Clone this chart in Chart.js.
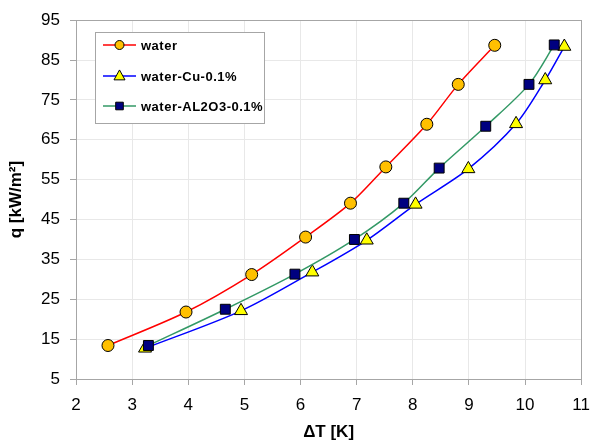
<!DOCTYPE html>
<html>
<head>
<meta charset="utf-8">
<script src="https://cdn.jsdelivr.net/npm/chart.js@4/dist/chart.umd.min.js"></script>
<style>
    html, body { margin: 0; padding: 0; background: #fff; }
    #wrap { width: 600px; height: 446px; }
</style>
</head>
<body>
<div id="wrap"><canvas id="boilingChart" width="600" height="446"></canvas></div>
<script>
// Series data
const waterDT = [2.57, 3.96, 5.13, 6.09, 6.89, 7.52, 8.25, 8.81, 9.46];
const waterQ = [13.4, 21.8, 31.2, 40.6, 49.1, 58.2, 68.9, 78.9, 88.7];

const cuDT = [3.23, 4.94, 6.21, 7.18, 8.05, 8.99, 9.84, 10.36, 10.70];
const cuQ = [12.7, 22.1, 31.8, 39.8, 48.8, 57.7, 69.0, 80.0, 88.4];

const aluDT = [3.29, 4.66, 5.90, 6.96, 7.84, 8.47, 9.30, 10.07, 10.52];
const aluQ = [13.4, 22.5, 31.3, 40.0, 49.1, 57.9, 68.4, 78.9, 88.8];

const seriesNames = ['water', 'water-Cu-0.1%', 'water-AL2O3-0.1%'];

// Axis ticks
const xTicks = [2, 3, 4, 5, 6, 7, 8, 9, 10, 11];
const yTicks = [5, 15, 25, 35, 45, 55, 65, 75, 85, 95];

const FONT = 'Arial, "Liberation Sans", sans-serif';

function toPoints(xs, ys) {
    return xs.map((x, i) => ({ x: x, y: ys[i] }));
}

// Gray frame round the plot area
const framePlugin = {
    id: 'frame',
    afterDraw(chart) {
        const { ctx, chartArea: a } = chart;
        ctx.save();
        ctx.strokeStyle = '#a6a6a6';
        ctx.lineWidth = 1;
        ctx.strokeRect(Math.round(a.left) + 0.5, Math.round(a.top) + 0.5,
            Math.round(a.right - a.left), Math.round(a.bottom - a.top));
        ctx.restore();
    }
};

// Legend box inside the plot, Excel style
function drawMarker(ctx, style, x, y, r) {
    ctx.beginPath();
    if (style === 'circle') {
        ctx.arc(x, y, r, 0, Math.PI * 2);
    } else if (style === 'rect') {
        ctx.rect(x - r, y - r, r * 2, r * 2);
    } else if (style === 'triangle') {
        ctx.moveTo(x, y - r * 1.1);
        ctx.lineTo(x + r, y + r * 0.7);
        ctx.lineTo(x - r, y + r * 0.7);
        ctx.closePath();
    }
    ctx.fill();
    ctx.stroke();
}

const legendPlugin = {
    id: 'boxLegend',
    afterDraw(chart) {
        const ctx = chart.ctx;
        const box = { x: 95.5, y: 32.5, w: 169, h: 91 };
        const rows = [45, 76, 106];
        const sizes = [4.5, 5.5, 3.8];
        ctx.save();
        ctx.fillStyle = '#fff';
        ctx.strokeStyle = '#a6a6a6';
        ctx.lineWidth = 1;
        ctx.fillRect(box.x, box.y, box.w, box.h);
        ctx.strokeRect(box.x, box.y, box.w, box.h);

        seriesNames.forEach((name, i) => {
            const ds = chart.data.datasets.find(d => d.label === name);
            const y = rows[i];
            ctx.strokeStyle = ds.borderColor;
            ctx.lineWidth = 1.5;
            ctx.beginPath();
            ctx.moveTo(103, y);
            ctx.lineTo(136, y);
            ctx.stroke();

            ctx.fillStyle = ds.pointBackgroundColor;
            ctx.strokeStyle = '#000';
            ctx.lineWidth = 1;
            drawMarker(ctx, ds.pointStyle, 119.5, y, sizes[i]);

            ctx.fillStyle = '#000';
            ctx.font = 'bold 13px ' + FONT;
            ctx.textBaseline = 'middle';
            ctx.textAlign = 'left';
            if ('letterSpacing' in ctx) ctx.letterSpacing = '0.5px';
            ctx.fillText(ds.label, 141, y + 1);
        });
        ctx.restore();
    }
};

const ctx1 = document.getElementById('boilingChart');

new Chart(ctx1, {
    type: 'scatter',
    data: {
        datasets: [{
            label: seriesNames[0],
            data: toPoints(waterDT, waterQ),
            order: 0,
            showLine: true,
            borderColor: '#ff0000',
            borderWidth: 1.5,
            tension: 0.3,
            pointStyle: 'circle',
            pointRadius: 6,
            pointBackgroundColor: '#ffc000',
            pointBorderColor: '#000',
            pointBorderWidth: 1
        }, {
            label: seriesNames[1],
            data: toPoints(cuDT, cuQ),
            order: 2,
            showLine: true,
            borderColor: '#0000ff',
            borderWidth: 1.5,
            tension: 0.3,
            pointStyle: 'triangle',
            pointRadius: 7.5,
            pointBackgroundColor: '#ffff00',
            pointBorderColor: '#000',
            pointBorderWidth: 1
        }, {
            label: seriesNames[2],
            data: toPoints(aluDT, aluQ),
            order: 1,
            showLine: true,
            borderColor: '#339966',
            borderWidth: 1.5,
            tension: 0.3,
            pointStyle: 'rect',
            pointRadius: 7,
            pointBackgroundColor: '#000080',
            pointBorderColor: '#000',
            pointBorderWidth: 1
        }]
    },
    options: {
        responsive: false,
        animation: false,
        layout: { padding: { left: 0, right: 14, top: 15, bottom: 0 } },
        plugins: {
            legend: { display: false },
            tooltip: { enabled: false }
        },
        scales: {
            x: {
                type: 'linear',
                min: xTicks[0],
                max: xTicks[xTicks.length - 1],
                afterBuildTicks: axis => { axis.ticks = xTicks.map(v => ({ value: v })); },
                afterFit: axis => { axis.height = 67; },
                ticks: { color: '#000', font: { family: FONT, size: 17 }, padding: 10, maxRotation: 0 },
                grid: { color: '#e8e8e8', borderDash: [3, 3], tickLength: 6, tickColor: '#a6a6a6', tickBorderDash: [] },
                border: { color: '#a6a6a6' },
                title: {
                    display: true,
                    text: 'ΔT [K]',
                    color: '#000',
                    font: { family: FONT, size: 17, weight: 'bold' },
                    padding: { top: 0, bottom: 3 }
                }
            },
            y: {
                type: 'linear',
                min: yTicks[0],
                max: yTicks[yTicks.length - 1],
                afterBuildTicks: axis => { axis.ticks = yTicks.map(v => ({ value: v })); },
                afterFit: axis => { axis.width = 76; },
                ticks: { color: '#000', font: { family: FONT, size: 17 }, padding: 10 },
                grid: { color: '#e8e8e8', borderDash: [3, 3], tickLength: 6, tickColor: '#a6a6a6', tickBorderDash: [] },
                border: { color: '#a6a6a6' },
                title: {
                    display: true,
                    text: 'q [kW/m²]',
                    color: '#000',
                    font: { family: FONT, size: 17, weight: 'bold' },
                    padding: { top: 6, bottom: 0 }
                }
            }
        }
    },
    plugins: [framePlugin, legendPlugin]
});
</script>
</body>
</html>
